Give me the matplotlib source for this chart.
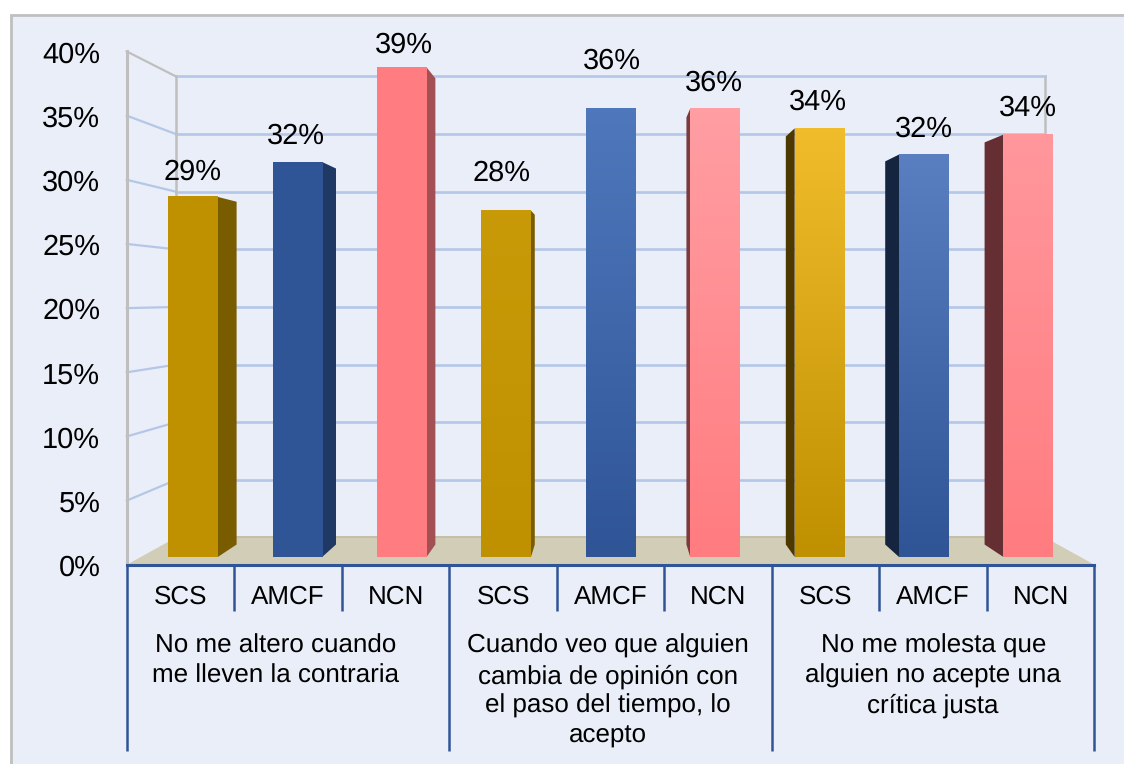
import matplotlib
matplotlib.use('Agg')
import matplotlib.pyplot as plt
from matplotlib.colors import LinearSegmentedColormap
from matplotlib.patches import Polygon, Rectangle
import numpy as np

plt.rcParams['font.family'] = ['Liberation Sans', 'DejaVu Sans']
plt.rcParams['text.hinting'] = 'none'
plt.rcParams['text.hinting_factor'] = 1

# valores (%)
bar_labels = ["SCS", "AMCF", "NCN", "SCS", "AMCF", "NCN", "SCS", "AMCF", "NCN"]
bar_values = [28.9, 31.7, 39.3, 27.8, 36.0, 36.0, 34.4, 32.3, 33.9]
group_labels = [
    "No me altero cuando\nme lleven la contraria",
    "Cuando veo que alguien\ncambia de opinión con\nel paso del tiempo, lo\nacepto",
    "No me molesta que\nalguien no acepte una\ncrítica justa",
]
y_ticks = [0, 5, 10, 15, 20, 25, 30, 35, 40]

# colores (arriba, abajo, lateral)
top_colors = ["#BF9000", "#2F5597", "#FF7C80", "#C99A08", "#4F78BC", "#FF9EA3", "#F0BC2C", "#5A7FC0", "#FF979C"]
bottom_colors = ["#BF9000", "#2F5597", "#FF7C80", "#BF9000", "#2F5597", "#FF7C80", "#BF9000", "#2F5597", "#FF7C80"]
side_colors = ["#7A5C00", "#1F3864", "#A35055", "#7A5C00", "#1F3864", "#7A3A3E", "#4D3800", "#15253F", "#652E33"]

# ajustes de las etiquetas respecto a la barra (px)
label_lift = [25, 26, 22, 37, 47, 25, 26, 25, 26]
label_shift = [0, -1, 2, -5, 1, -1, -1, 0, 0]

W, H = 1124, 764
BG = "#EAEEF8"
GRID = "#B4C7E7"
WALL = "#BFBFBF"
AXIS = "#2F5597"
FLOOR = "#D2CDB6"

# escala del plano de las barras en pixeles
X0, X_STEP = 193, 104.4
Y0, Y_STEP = 557, 12.46

# perspectiva: todo converge hacia este punto (datos)
VP_X, VP_Y = 4, 20.87
FRONT, BACK, BAR_BACK = 1.03, 0.925, 0.952


def proj(x, y, depth):
    return VP_X + (x - VP_X) * depth, VP_Y + (y - VP_Y) * depth


def fy(px):
    return 1 - px / H


fig = plt.figure(figsize=(W / 100, H / 100), dpi=100, facecolor="white")
ax = fig.add_axes([0, 0, 1, 1])
ax.axis("off")

fig.patches.append(Rectangle((11 / W, -0.01), 1.1, 1 - 15 / H + 0.01, transform=fig.transFigure,
                             facecolor=BG, edgecolor=WALL, linewidth=2, zorder=-1))

x_left, x_right = -0.5, 8.5

# paredes y rejilla
for t in y_ticks:
    if t > 0:
        xa, ya = proj(x_left, t, FRONT)
        xb, yb = proj(x_left, t, BACK)
        xc, yc = proj(x_right, t, BACK)
        color = WALL if t == 40 else GRID
        ax.plot([xa, xb], [ya, yb], color=color, lw=1.6, zorder=1)
        ax.plot([xb, xc], [yb, yc], color=GRID, lw=1.9, zorder=1)

for depth, lw in [(FRONT, 2.2), (BACK, 1.8)]:
    xa, ya = proj(x_left, 0, depth)
    xb, yb = proj(x_left, 40, depth)
    ax.plot([xa, xb], [ya, yb], color=WALL, lw=lw, zorder=1.5)
xa, ya = proj(x_right, 0, BACK)
xb, yb = proj(x_right, 40, BACK)
ax.plot([xa, xb], [ya, yb], color=WALL, lw=1.8, zorder=0.9)

# suelo
floor = [proj(x_left, 0, FRONT), proj(x_left, 0, BACK), proj(x_right, 0, BACK), proj(x_right, 0, FRONT)]
ax.add_patch(Polygon(floor, closed=True, facecolor=FLOOR, edgecolor="none", zorder=2))
ax.plot([floor[1][0], floor[2][0]], [floor[1][1], floor[2][1]], color="#C4BEA6", lw=1.4, zorder=2.1)

# barras
width = 49.5 / X_STEP
xs = np.arange(len(bar_values))
bars = ax.bar(xs, bar_values, width=width, color=bottom_colors, zorder=4)
for i, (bar, value) in enumerate(zip(bars, bar_values)):
    # cara lateral, hacia el punto de fuga
    edge = i + width / 2 if i < VP_X else i - width / 2
    if i != VP_X:
        side = [(edge, 0), (edge, value), proj(edge, value, BAR_BACK), proj(edge, 0, BAR_BACK)]
        ax.add_patch(Polygon(side, closed=True, facecolor=side_colors[i], edgecolor="none", zorder=3))

    cmap = LinearSegmentedColormap.from_list("b", [bottom_colors[i], top_colors[i]])
    grad = np.linspace(1, 0, 64).reshape(-1, 1)
    ax.imshow(grad, cmap=cmap, aspect="auto", zorder=4.5, interpolation="bilinear",
              extent=(i - width / 2, i + width / 2, 0, value))

    ax.annotate(f"{round(value)}%", (i, value), xytext=(label_shift[i] * 0.72, label_lift[i] * 0.72),
                textcoords="offset points", ha="center", va="center", fontsize=21, color="black", zorder=6)

# eje de categorias en el plano frontal
trans = ax.get_xaxis_transform()
axis_y = proj(0, 0, FRONT)[1]
ax.plot([proj(x_left, 0, FRONT)[0], proj(x_right, 0, FRONT)[0]], [axis_y, axis_y], color=AXIS, lw=2.2, zorder=5)

for i in range(len(bar_values) + 1):
    xf = proj(i - 0.5, 0, FRONT)[0]
    bottom = 751 if i % 3 == 0 else 611
    ax.plot([xf, xf], [fy(565), fy(bottom)], color=AXIS, lw=1.8, transform=trans, zorder=5,
            solid_capstyle="butt")

for i, label in enumerate(bar_labels):
    ax.text(proj(i, 0, FRONT)[0], fy(597), label, transform=trans, ha="center", va="center", fontsize=19)

for g, label in enumerate(group_labels):
    xc = proj(3 * g + 1, 0, FRONT)[0]
    xc += [-12, -3, 0][g] / X_STEP
    ax.text(xc, fy(634), label, transform=trans, ha="center", va="top", fontsize=19, linespacing=1.3)

# etiquetas del eje y
for t in y_ticks:
    ax.annotate(f"{t}%", proj(x_left, t, FRONT), xytext=(-19, -2.5), textcoords="offset points",
                ha="right", va="center", fontsize=21, color="black")

ax.set_xlim((0 - X0) / X_STEP, (W - X0) / X_STEP)
ax.set_ylim((Y0 - H) / Y_STEP, Y0 / Y_STEP)

plt.savefig("out.png", dpi=100, facecolor="white")
plt.close()
